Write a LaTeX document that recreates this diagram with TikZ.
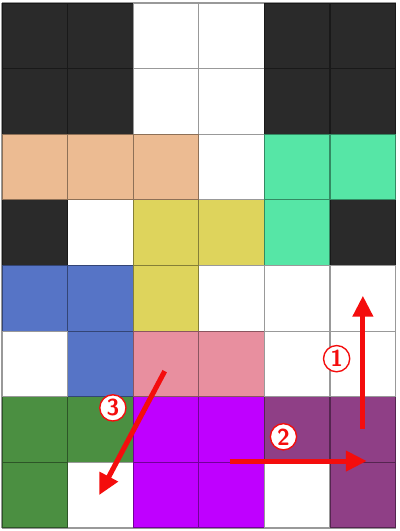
\documentclass[tikz,border=0pt]{standalone}
\usepackage{tikz}
\usetikzlibrary{arrows.meta, positioning}
\definecolor{cDark}{HTML}{2A2A2A}
\definecolor{cPeach}{HTML}{ECBB92}
\definecolor{cMint}{HTML}{56E6A6}
\definecolor{cYellow}{HTML}{DED45C}
\definecolor{cBlue}{HTML}{5674C6}
\definecolor{cPink}{HTML}{E88F9F}
\definecolor{cGreen}{HTML}{4B8F41}
\definecolor{cMagenta}{HTML}{BF00FF}
\definecolor{cPurple}{HTML}{8F3F86}
\definecolor{cArrow}{HTML}{F40D0D}
\tikzstyle{every node}=[font=\sffamily\bfseries]
\tikzset{GridStyle/.style = {
			      draw           = black,
			      draw opacity   = 0.4,
			      line width     = 0.5pt}
						}
\tikzset{MoveStyle/.style   = {
			      draw           = cArrow,
			      line width     = 2.2pt,
			      -{Triangle[length=0.32cm,width=0.3cm]}}
						}
\tikzset{StepLabelStyle/.style =   {
				  shape          = circle,
				  draw           = cArrow,
				  fill           = white,
				  text           = cArrow,
				  line width     = 0.6pt,
				  inner sep      = 0pt,
				  minimum size   = 0.4cm}
					}

\begin{document}
\begin{tikzpicture}
	\useasboundingbox (-0.03,-0.046) rectangle (6.06,8.046);
	% coloured cells, row 0 is at the bottom
	\foreach \x/\y/\c in {0/7/cDark, 1/7/cDark, 4/7/cDark, 5/7/cDark,
		0/6/cDark, 1/6/cDark, 4/6/cDark, 5/6/cDark,
		0/5/cPeach, 1/5/cPeach, 2/5/cPeach, 4/5/cMint, 5/5/cMint,
		0/4/cDark, 2/4/cYellow, 3/4/cYellow, 4/4/cMint, 5/4/cDark,
		0/3/cBlue, 1/3/cBlue, 2/3/cYellow,
		1/2/cBlue, 2/2/cPink, 3/2/cPink,
		0/1/cGreen, 1/1/cGreen, 2/1/cMagenta, 3/1/cMagenta, 4/1/cPurple, 5/1/cPurple,
		0/0/cGreen, 2/0/cMagenta, 3/0/cMagenta, 5/0/cPurple}
		\fill[\c] (\x,\y) rectangle ++(1,1);
	\draw[GridStyle] (0,0) grid (6,8);

	\coordinate (S1) at (5.50,1.51);
	\coordinate (E1) at (5.50,3.54);
	\coordinate (S2) at (3.47,1.02);
	\coordinate (E2) at (5.56,1.02);
	\coordinate (S3) at (2.48,2.39);
	\coordinate (E3) at (1.48,0.50);

	\draw[MoveStyle] (S1) -- (E1);
	\draw[MoveStyle] (S2) -- (E2);
	\draw[MoveStyle] (S3) -- (E3);

	\draw (5.10,2.58) node[StepLabelStyle] (L1) {1};
	\draw (4.29,1.39) node[StepLabelStyle] (L2) {2};
	\draw (1.69,1.83) node[StepLabelStyle] (L3) {3};
\end{tikzpicture}
\end{document}
